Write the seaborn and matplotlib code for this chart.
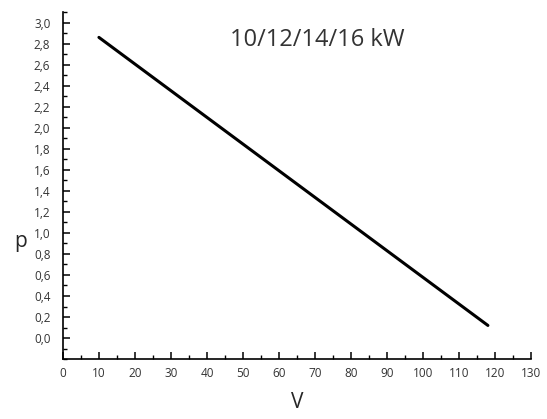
import numpy as np
import pandas as pd
import matplotlib
matplotlib.use("Agg")
import matplotlib.pyplot as plt
from matplotlib.ticker import MultipleLocator, FuncFormatter
import seaborn as sns

# Datos
caudal = [10, 118]
presion = [2.86, 0.12]
titulo = "10/12/14/16 kW"

sns.set_style("white")
plt.rcParams['font.family'] = ['Open Sans', 'DejaVu Sans']

df = pd.DataFrame({"V": caudal, "p": presion})

fig = plt.figure(figsize=(5.47, 4.19), dpi=100)
ax = fig.add_axes([0.115, 0.143, 0.856, 0.828])
sns.lineplot(data=df, x="V", y="p", color="black", linewidth=2.2, ax=ax)

ax.set_xlim(0, 130)
ax.set_ylim(-0.2, 3.1)
ax.xaxis.set_major_locator(MultipleLocator(10))
ax.xaxis.set_minor_locator(MultipleLocator(5))
ax.set_yticks(np.arange(0, 3.01, 0.2))
ax.yaxis.set_minor_locator(MultipleLocator(0.1))
ax.yaxis.set_major_formatter(FuncFormatter(lambda v, _: f"{v:.1f}".replace(".", ",").replace("-0,0", "0,0")))

for s in ["top", "right"]:
    ax.spines[s].set_visible(False)
for s in ["left", "bottom"]:
    ax.spines[s].set_color("black")
    ax.spines[s].set_linewidth(1.2)

ax.tick_params(which="both", left=True, bottom=True)
ax.tick_params(which="major", direction="in", length=5, width=1.1, labelsize=8.5,
               labelcolor="#333333", color="black")
ax.tick_params(which="minor", direction="in", length=3, width=1.0, color="black")
ax.tick_params(axis="y", pad=9)
ax.tick_params(axis="x", pad=6)

ax.set_xlabel("V", fontsize=15, labelpad=8)
ax.set_ylabel("p", fontsize=15, rotation=0)
ax.yaxis.set_label_coords(-0.09, 0.31)
ax.text(0.543, 0.92, titulo, transform=ax.transAxes, ha="center", va="center",
        fontsize=17, color="#333333")

fig.savefig("out.png", dpi=100)
